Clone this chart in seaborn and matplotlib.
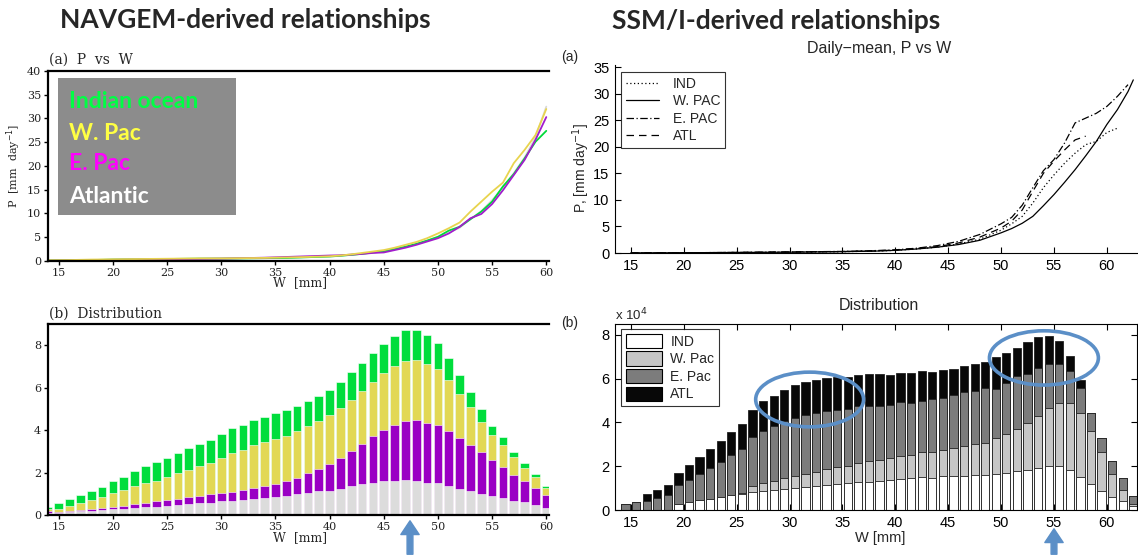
import numpy as np
import matplotlib
matplotlib.use("Agg")
import matplotlib.pyplot as plt
import seaborn as sns
from matplotlib.patches import Rectangle, Ellipse, Patch, FancyArrowPatch
from matplotlib.lines import Line2D

# ---------------- data ----------------
# NAVGEM (left) P vs W
nav_w_line = [14, 16, 18, 20, 22, 24, 26, 28, 30, 32, 34, 36, 38, 40, 41, 42, 43, 44, 45, 46,
              47, 48, 49, 50, 51, 52, 53, 54, 55, 56, 57, 58, 59, 60]
nav_p_ind = [0.1, 0.15, 0.2, 0.3, 0.35, 0.4, 0.45, 0.5, 0.5, 0.55, 0.6, 0.65, 0.8, 0.95, 1.1, 1.3, 1.5, 1.8,
             2.0, 2.5, 3.0, 3.6, 4.3, 5.1, 6.4, 7.2, 8.8, 10.4, 12.5, 15.7, 18.3, 21.6, 25.1, 27.4]
nav_p_wpac = [0.15, 0.2, 0.3, 0.35, 0.4, 0.45, 0.5, 0.55, 0.55, 0.6, 0.65, 0.75, 0.85, 1.0, 1.15, 1.4, 1.7,
              2.0, 2.3, 2.8, 3.4, 4.0, 4.8, 5.8, 6.9, 8.1, 10.4, 12.5, 14.6, 16.5, 20.6, 23.4, 26.5, 32.0]
nav_p_epac = [0.05, 0.1, 0.2, 0.25, 0.3, 0.35, 0.4, 0.45, 0.5, 0.6, 0.7, 0.85, 1.0, 1.15, 1.2, 1.35, 1.5,
              1.7, 1.8, 2.3, 2.8, 3.4, 4.1, 4.8, 5.8, 7.2, 9.0, 9.9, 12.0, 14.9, 18.1, 21.3, 25.5, 30.3]
nav_p_atl = [0.1, 0.15, 0.2, 0.25, 0.3, 0.35, 0.4, 0.45, 0.5, 0.55, 0.6, 0.7, 0.8, 0.95, 1.1, 1.3, 1.5,
             1.75, 2.0, 2.5, 3.0, 3.6, 4.3, 5.0, 6.0, 7.0, 8.8, 10.5, 12.8, 15.5, 18.5, 21.8, 26.0, 32.5]

# NAVGEM (left) distribution, stacked: Atlantic, E. Pac, W. Pac, Indian ocean
nav_w_bar = list(range(14, 61))
nav_n_atl = [0.10, 0.08, 0.12, 0.17, 0.20, 0.24, 0.27, 0.30, 0.33, 0.36, 0.39, 0.43, 0.47, 0.50, 0.55, 0.58,
             0.65, 0.68, 0.71, 0.76, 0.80, 0.87, 0.91, 0.98, 1.06, 1.12, 1.15, 1.23, 1.37, 1.47, 1.53, 1.61,
             1.62, 1.66, 1.62, 1.53, 1.50, 1.39, 1.21, 1.14, 0.99, 0.90, 0.82, 0.68, 0.60, 0.47, 0.32]
nav_n_epac = [0.09, 0.08, 0.08, 0.08, 0.10, 0.09, 0.12, 0.14, 0.19, 0.21, 0.26, 0.26, 0.29, 0.37, 0.35, 0.40,
              0.41, 0.42, 0.46, 0.50, 0.57, 0.60, 0.67, 0.76, 0.90, 1.06, 1.26, 1.45, 1.63, 1.89, 2.18, 2.38,
              2.61, 2.79, 2.84, 2.82, 2.74, 2.58, 2.43, 2.16, 1.96, 1.69, 1.45, 1.21, 1.01, 0.82, 0.63]
nav_n_wpac = [0.08, 0.12, 0.21, 0.33, 0.41, 0.54, 0.64, 0.74, 0.85, 0.96, 0.96, 1.08, 1.20, 1.26, 1.42, 1.46,
              1.64, 1.82, 1.87, 2.04, 2.05, 2.11, 2.16, 2.20, 2.25, 2.24, 2.29, 2.37, 2.44, 2.46, 2.55, 2.68,
              2.79, 2.81, 2.83, 2.75, 2.62, 2.37, 2.05, 1.78, 1.43, 1.16, 1.01, 0.82, 0.61, 0.48, 0.34]
nav_n_ind = [0.13, 0.30, 0.33, 0.37, 0.44, 0.47, 0.55, 0.63, 0.68, 0.76, 0.87, 0.91, 0.96, 1.01, 1.04, 1.09,
             1.12, 1.18, 1.20, 1.16, 1.19, 1.23, 1.21, 1.19, 1.18, 1.18, 1.21, 1.21, 1.29, 1.32, 1.36, 1.37,
             1.42, 1.45, 1.42, 1.37, 1.26, 1.07, 0.93, 0.72, 0.62, 0.46, 0.38, 0.27, 0.22, 0.17, 0.08]

# SSM/I (right) P vs W
ssm_w_line = [15, 20, 25, 30, 35, 38, 40, 42, 44, 46, 48, 50, 51, 52, 53, 54, 55, 56, 57, 58, 59, 60, 61, 62, 62.5]
nan = np.nan
ssm_p_ind = [0.02, 0.05, 0.1, 0.15, 0.25, 0.35, 0.5, 0.75, 1.1, 1.7, 2.6, 4.3, 5.5, 6.9, 9.4, 12.3, 14.7, 16.9,
             18.8, 20.4, 21.0, 22.7, 23.5, nan, nan]
ssm_p_wpac = [0.02, 0.05, 0.1, 0.15, 0.25, 0.35, 0.5, 0.75, 1.1, 1.6, 2.4, 3.8, 4.6, 5.6, 6.9, 8.9, 11.0, 13.3,
              15.7, 18.3, 21.0, 24.2, 27.0, 30.4, 32.6]
ssm_p_epac = [0.02, 0.05, 0.1, 0.2, 0.3, 0.45, 0.6, 0.9, 1.4, 2.2, 3.5, 5.5, 6.7, 9.0, 12.3, 15.5, 17.6, 20.7,
              24.5, 25.4, 26.3, 27.6, 29.5, 31.7, nan]
ssm_p_atl = [0.02, 0.05, 0.1, 0.18, 0.28, 0.4, 0.55, 0.85, 1.2, 1.9, 3.0, 4.7, 6.0, 8.1, 11.6, 15.0, 17.3, 19.4,
             21.3, 22.0, nan, nan, nan, nan, nan]

# SSM/I (right) distribution (x 10^4), stacked: IND, W. Pac, E. Pac, ATL
ssm_w_bar = [14.5 + k for k in range(49)]
ssm_n_ind = [0, 0, 0, 0, 0, 0.27, 0.37, 0.46, 0.52, 0.59, 0.67, 0.73, 0.82, 0.87, 0.90, 0.96, 0.99, 1.05,
             1.08, 1.14, 1.20, 1.23, 1.26, 1.28, 1.31, 1.35, 1.42, 1.45, 1.49, 1.46, 1.54, 1.54, 1.57, 1.61,
             1.61, 1.66, 1.71, 1.76, 1.85, 1.94, 1.99, 1.99, 1.81, 1.53, 1.18, 0.85, 0.58, 0.40, 0.17]
ssm_n_wpac = [0, 0, 0, 0, 0, 0, 0, 0, 0, 0, 0.03, 0.05, 0.26, 0.36, 0.42, 0.50, 0.58, 0.59, 0.66, 0.73, 0.78,
              0.79, 0.89, 0.94, 0.96, 1.02, 1.06, 1.08, 1.14, 1.19, 1.18, 1.29, 1.36, 1.39, 1.47, 1.62, 1.75,
              1.93, 2.11, 2.37, 2.66, 2.88, 3.09, 2.92, 2.44, 1.80, 1.07, 0.53, 0.12]
ssm_n_epac = [0.27, 0.35, 0.43, 0.55, 0.67, 0.86, 1.00, 1.18, 1.41, 1.60, 1.81, 2.01, 2.25, 2.39, 2.53, 2.59,
              2.63, 2.71, 2.67, 2.67, 2.60, 2.59, 2.58, 2.51, 2.49, 2.42, 2.44, 2.36, 2.36, 2.42, 2.42, 2.42,
              2.44, 2.46, 2.50, 2.27, 2.33, 2.43, 2.24, 2.16, 2.04, 1.82, 1.46, 1.13, 0.83, 0.62, 0.58, 0.51, 0.36]
ssm_n_atl = [0, 0, 0.32, 0.38, 0.47, 0.56, 0.67, 0.78, 0.86, 0.98, 1.04, 1.15, 1.24, 1.34, 1.37, 1.44, 1.49,
             1.48, 1.51, 1.49, 1.49, 1.49, 1.45, 1.47, 1.44, 1.39, 1.34, 1.37, 1.34, 1.22, 1.27, 1.20, 1.19,
             1.20, 1.20, 1.42, 1.39, 1.30, 1.48, 1.44, 1.28, 1.04, 0.66, 0.37, 0, 0, 0, 0, 0]

nav_legend_labels = ["Indian ocean", "W. Pac", "E. Pac", "Atlantic"]
ssm_line_labels = ["IND", "W. PAC", "E. PAC", "ATL"]
ssm_bar_labels = ["IND", "W. Pac", "E. Pac", "ATL"]

# ---------------- figure ----------------
sns.set_theme(style="white")
plt.rcParams['font.family'] = ['DejaVu Sans']
plt.rcParams['axes.linewidth'] = 1.0

FW, FH = 1138, 557
fig = plt.figure(figsize=(FW / 100, FH / 100), dpi=100)
fig.patch.set_facecolor('white')


def ax_px(x0, y0, x1, y1):
    return fig.add_axes([x0 / FW, 1 - y1 / FH, (x1 - x0) / FW, (y1 - y0) / FH])


def ftext(x, y, s, **kw):
    return fig.text(x / FW, 1 - y / FH, s, **kw)


SERIF = ['DejaVu Serif']
SANS = ['Liberation Sans', 'DejaVu Sans']
HEAD = ['Lato', 'DejaVu Sans']
ARROW_C = '#5b8fc7'

# headers
ftext(60, 20, "NAVGEM-derived relationships", family=HEAD, weight='bold', fontsize=19, va='center', ha='left')
ftext(612, 21, "SSM/I-derived relationships", family=HEAD, weight='bold', fontsize=19, va='center', ha='left')


def grads_style(ax):
    for s in ['left', 'bottom', 'top']:
        ax.spines[s].set_linewidth(1.6)
        ax.spines[s].set_color('black')
    ax.spines['right'].set_visible(False)
    ax.tick_params(direction='out', length=3, width=1, labelsize=8, pad=2, colors='black',
                   left=True, bottom=True)
    for lab in ax.get_xticklabels() + ax.get_yticklabels():
        lab.set_family(SERIF)
        lab.set_color('#222222')


# ---- left top: P vs W
ax1 = ax_px(48, 71, 549, 261)
for vals, col in [(nav_p_atl, '#d8d8d8'), (nav_p_ind, '#00d93a'), (nav_p_epac, '#a21ccc'),
                  (nav_p_wpac, '#e8d44e')]:
    sns.lineplot(x=nav_w_line, y=vals, color=col, linewidth=1.3, ax=ax1, errorbar=None)
ax1.set_xlim(14, 60.25)
ax1.set_ylim(0, 40)
ax1.set_xticks(range(15, 61, 5))
ax1.set_yticks(range(0, 41, 5))
ax1.set_xlabel("")
ax1.set_ylabel("")
grads_style(ax1)
ftext(49, 60, "(a)  P  vs  W", family=SERIF, fontsize=10, va='center', ha='left')
ftext(300, 283, "W  [mm]", family=SERIF, fontsize=9, va='center', ha='center')
ftext(14, 166, "P  [mm  day$^{-1}$]", family=SERIF, fontsize=8, va='center', ha='center', rotation=90)

fig.add_artist(Rectangle((58 / FW, 1 - 215 / FH), (236 - 58) / FW, (215 - 78) / FH,
                         transform=fig.transFigure, facecolor='#8c8c8c', edgecolor='none', zorder=3))
for lab, col, yy in zip(nav_legend_labels, ['#00ff44', '#ffff44', '#ff00ff', 'white'], [102, 134, 164, 196]):
    t = ftext(69, yy, lab, family=HEAD, weight='bold', fontsize=16.5, color=col, va='center', ha='left')
    t.set_zorder(4)

# ---- left bottom: distribution (stacked)
ax2 = ax_px(48, 324, 549, 515)
nav_layers = [nav_n_atl, nav_n_epac, nav_n_wpac, nav_n_ind]
nav_cols = ['#dcdcdc', '#9a00c4', '#e2d855', '#00dd3c']
nav_cum = np.cumsum(np.array(nav_layers), axis=0)
for i in range(3, -1, -1):
    sns.barplot(x=nav_w_bar, y=nav_cum[i], native_scale=True, color=nav_cols[i], saturation=1,
                width=0.8, edgecolor='white', linewidth=0.4, errorbar=None, ax=ax2)
ax2.set_xlim(14, 60.25)
ax2.set_ylim(0, 9)
ax2.set_xticks(range(15, 61, 5))
ax2.set_xticklabels([str(v) for v in range(15, 61, 5)])
ax2.set_yticks(range(0, 9, 2))
ax2.set_yticklabels([str(v) for v in range(0, 9, 2)])
ax2.set_xlabel("")
ax2.set_ylabel("")
grads_style(ax2)
ftext(49, 314, "(b)  Distribution", family=SERIF, fontsize=10, va='center', ha='left')
ftext(300, 538, "W  [mm]", family=SERIF, fontsize=9, va='center', ha='center')


def matlab_style(ax, box):
    for s in ['left', 'bottom', 'top', 'right']:
        ax.spines[s].set_linewidth(0.8)
        ax.spines[s].set_color('black')
    if not box:
        ax.spines['top'].set_visible(False)
        ax.spines['right'].set_visible(False)
    ax.tick_params(direction='in', length=4, width=0.8, labelsize=10.5, pad=4, colors='black',
                   left=True, bottom=True, top=box, right=box)
    for lab in ax.get_xticklabels() + ax.get_yticklabels():
        lab.set_family(SANS)


# ---- right top: P vs W
ax3 = ax_px(615, 65, 1137, 253)
ssm_lines = [ssm_p_ind, ssm_p_wpac, ssm_p_epac, ssm_p_atl]
ssm_styles = [(0, (1, 2)), '-', (0, (6, 2, 1, 2)), (0, (6, 4))]
for vals, ls in zip(ssm_lines, ssm_styles):
    sns.lineplot(x=ssm_w_line, y=vals, color='black', linewidth=0.9, linestyle=ls, ax=ax3, errorbar=None)
ax3.set_xlim(13.5, 62.85)
ax3.set_ylim(0, 35.4)
ax3.set_xticks(range(15, 61, 5))
ax3.set_yticks(range(0, 36, 5))
ax3.set_xlabel("")
ax3.set_ylabel("")
matlab_style(ax3, box=False)
handles = [Line2D([], [], color='black', lw=0.9, linestyle=ls) for ls in ssm_styles]
leg = ax3.legend(handles, ssm_line_labels, loc='upper left', bbox_to_anchor=(621 / FW, 1 - 72 / FH),
                 bbox_transform=fig.transFigure, frameon=True, fancybox=False, edgecolor='black',
                 prop={'family': SANS, 'size': 10}, handlelength=2.4, labelspacing=0.25,
                 borderpad=0.35, handletextpad=1.0, borderaxespad=0)
leg.get_frame().set_linewidth(0.8)
ftext(561, 57, "(a)", family=SANS, fontsize=10, va='center', ha='left')
ftext(879, 48, "Daily\u2212mean, P vs W", family=SANS, fontsize=11.5, va='center', ha='center')
ftext(581, 168, "P, [mm day$^{-1}$]", family=SANS, fontsize=10, va='center', ha='center', rotation=90)

# ---- right bottom: distribution (stacked)
ax4 = ax_px(615, 324, 1137, 510)
ssm_layers = [ssm_n_ind, ssm_n_wpac, ssm_n_epac, ssm_n_atl]
ssm_cols = ['white', '#c6c6c6', '#7c7c7c', '#080808']
ssm_cum = np.cumsum(np.array(ssm_layers), axis=0)
for i in range(3, -1, -1):
    sns.barplot(x=ssm_w_bar, y=ssm_cum[i], native_scale=True, color=ssm_cols[i], saturation=1,
                width=0.78, edgecolor='#222222', linewidth=0.6, errorbar=None, ax=ax4)
ax4.set_xlim(13.5, 62.85)
ax4.set_ylim(0, 8.5)
ax4.set_xticks(range(15, 61, 5))
ax4.set_xticklabels([str(v) for v in range(15, 61, 5)])
ax4.set_yticks(range(0, 9, 2))
ax4.set_yticklabels([str(v) for v in range(0, 9, 2)])
ax4.set_xlabel("")
ax4.set_ylabel("")
matlab_style(ax4, box=True)
bh = [Patch(facecolor=c, edgecolor='black', linewidth=0.8) for c in ssm_cols]
leg2 = ax4.legend(bh, ssm_bar_labels, loc='upper left', bbox_to_anchor=(621 / FW, 1 - 329 / FH),
                  bbox_transform=fig.transFigure, frameon=True, fancybox=False, edgecolor='black',
                  prop={'family': SANS, 'size': 10}, handlelength=2.6, handleheight=1.2,
                  labelspacing=0.2, borderpad=0.35, handletextpad=0.6, borderaxespad=0)
leg2.get_frame().set_linewidth(0.8)
for cx, cy, w, h in [(31.9, 5.05, 10.2, 2.5), (54.05, 6.95, 10.3, 2.48)]:
    ax4.add_patch(Ellipse((cx, cy), w, h, fill=False, edgecolor=ARROW_C, linewidth=2.6, zorder=10,
                          clip_on=False))
ftext(561, 323, "(b)", family=SANS, fontsize=10, va='center', ha='left')
ftext(615, 315, "x 10$^{4}$", family=SANS, fontsize=9.5, va='center', ha='left')
ftext(879, 305, "Distribution", family=SANS, fontsize=11.5, va='center', ha='center')
ftext(880, 538, "W [mm]", family=SANS, fontsize=10.5, va='center', ha='center')

# arrows
for xa, ytip in [(410, 518), (1054, 526)]:
    fig.add_artist(FancyArrowPatch(
        (xa, 0), (xa, FH - ytip), transform=None,
        arrowstyle="simple,head_length=0.9,head_width=1.2,tail_width=0.38",
        mutation_scale=11, color=ARROW_C, zorder=20))

fig.savefig("out.png", dpi=100, facecolor='white')
